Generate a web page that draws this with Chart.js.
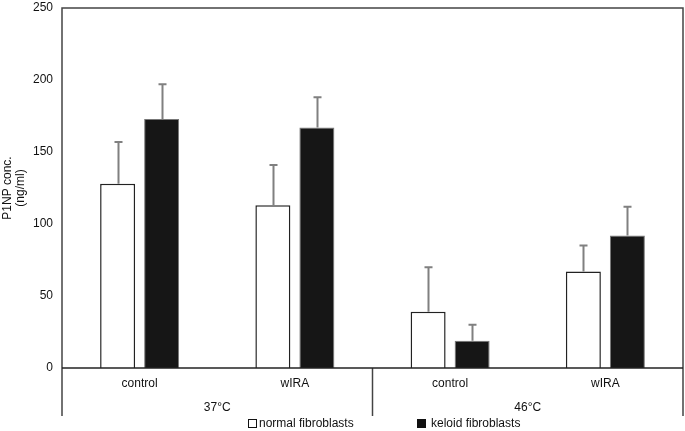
<!DOCTYPE html>
<html>
<head>
<meta charset="utf-8">
<script src="https://cdn.jsdelivr.net/npm/chart.js@4/dist/chart.umd.min.js"></script>
<style>
html,body{margin:0;padding:0;background:#fff;}
#wrap{width:685px;height:431px;}
</style>
</head>
<body>
<div id="wrap"><canvas id="c" width="685" height="431"></canvas></div>
<script>
const categories = ['control', 'wIRA', 'control', 'wIRA'];
const groups = ['37°C', '46°C'];
const seriesNames = ['normal fibroblasts', 'keloid fibroblasts'];
const normalValues = [128, 113, 39, 67];
const keloidValues = [173, 167, 19, 92];
const normalErrTop = [157, 141, 70, 85];
const keloidErrTop = [197, 188, 30, 112];
const yTicks = [0, 50, 100, 150, 200, 250];

const FONT = 'Liberation Sans, Arial, sans-serif';

const decor = {
  id: 'decor',
  afterDatasetsDraw(chart) {
    const ctx = chart.ctx;
    const y = chart.scales.y;
    const errs = [normalErrTop, keloidErrTop];
    ctx.save();
    ctx.strokeStyle = '#808080';
    ctx.lineWidth = 2;
    chart.data.datasets.forEach((ds, di) => {
      const meta = chart.getDatasetMeta(di);
      meta.data.forEach((bar, i) => {
        const x = Math.round(bar.x) + 0.5;
        const yTop = y.getPixelForValue(errs[di][i]);
        const yBar = y.getPixelForValue(ds.data[i]);
        ctx.beginPath();
        ctx.moveTo(x, yBar);
        ctx.lineTo(x, yTop);
        ctx.moveTo(x - 4, yTop);
        ctx.lineTo(x + 4, yTop);
        ctx.stroke();
      });
    });
    ctx.restore();
  },
  afterDraw(chart) {
    const ctx = chart.ctx;
    const a = chart.chartArea;
    const x = chart.scales.x;
    const bottomExt = 416;
    ctx.save();
    ctx.strokeStyle = '#444';
    ctx.lineWidth = 1.5;
    ctx.beginPath();
    ctx.moveTo(a.left, bottomExt);
    ctx.lineTo(a.left, a.top);
    ctx.lineTo(a.right, a.top);
    ctx.lineTo(a.right, bottomExt);
    ctx.stroke();
    const mid = (x.getPixelForValue(1) + x.getPixelForValue(2)) / 2;
    ctx.beginPath();
    ctx.moveTo(mid, a.bottom);
    ctx.lineTo(mid, bottomExt);
    ctx.stroke();
    ctx.strokeStyle = '#222';
    ctx.beginPath();
    ctx.moveTo(a.left, a.bottom);
    ctx.lineTo(a.right, a.bottom);
    ctx.stroke();
    ctx.fillStyle = '#111';
    ctx.font = '12px ' + FONT;
    ctx.textAlign = 'center';
    ctx.textBaseline = 'middle';
    ctx.fillText(groups[0], (a.left + mid) / 2, 408);
    ctx.fillText(groups[1], (mid + a.right) / 2, 408);
    ctx.save();
    ctx.translate(8, (a.top + a.bottom) / 2);
    ctx.rotate(-Math.PI / 2);
    ctx.fillText('P1NP conc.', 0, 0);
    ctx.fillText('(ng/ml)', 0, 13);
    ctx.restore();
    ctx.textAlign = 'left';
    ctx.lineWidth = 1;
    ctx.strokeStyle = '#111';
    ctx.strokeRect(248.5, 419.5, 8, 8);
    ctx.fillText(seriesNames[0], 259, 424);
    ctx.fillStyle = '#111';
    ctx.fillRect(417, 419, 9, 9);
    ctx.fillText(seriesNames[1], 431, 424);
    ctx.restore();
  }
};

new Chart(document.getElementById('c'), {
  type: 'bar',
  data: {
    labels: categories,
    datasets: [
      { label: seriesNames[0], data: normalValues, backgroundColor: '#ffffff', borderColor: '#222', borderWidth: 1.5 },
      { label: seriesNames[1], data: keloidValues, backgroundColor: '#161616', borderColor: '#777', borderWidth: 1 }
    ]
  },
  options: {
    responsive: false,
    animation: false,
    devicePixelRatio: 1,
    layout: { padding: { top: 8, right: 2, left: 0, bottom: 0 } },
    categoryPercentage: 0.567,
    barPercentage: 0.795,
    plugins: { legend: { display: false }, tooltip: { enabled: false } },
    scales: {
      x: {
        grid: { display: false, drawTicks: false },
        border: { display: false },
        ticks: { color: '#111', font: { family: FONT, size: 12 }, padding: 8 },
        afterFit(s) { s.height = 63; s.paddingLeft = 0; s.paddingRight = 0; }
      },
      y: {
        min: 0, max: 250,
        afterBuildTicks(s) { s.ticks = yTicks.map(v => ({ value: v })); },
        grid: { display: false, drawTicks: false },
        border: { display: false },
        ticks: { color: '#111', font: { family: FONT, size: 12 }, padding: 9 },
        afterFit(s) { s.width = 62; s.paddingTop = 0; s.paddingBottom = 0; }
      }
    }
  },
  plugins: [decor]
});
</script>
</body>
</html>
